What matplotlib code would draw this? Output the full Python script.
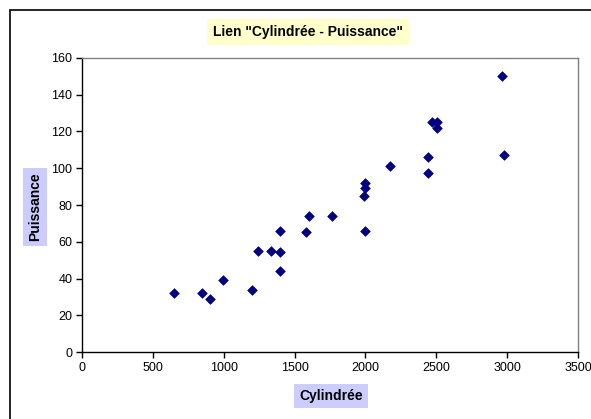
import matplotlib.pyplot as plt
from matplotlib.patches import Rectangle

# Cylindrée (cm3) et Puissance (ch)
cylindree = [650, 845, 900, 993, 1200, 1240, 1333, 1398, 1398, 1398,
             1581, 1602, 1762, 1988, 2000, 2000, 2000, 2172,
             2443, 2443, 2472, 2502, 2507, 2962, 2979]
puissance = [32, 32, 29, 39, 33.5, 55, 55, 54.5, 66, 44,
             65.4, 74, 74, 85, 89, 92, 66, 101,
             106, 97.3, 125, 125, 122, 150, 107]

x_ticks = list(range(0, 3501, 500))
y_ticks = list(range(0, 161, 20))

plt.rcParams['font.family'] = ['Liberation Sans', 'DejaVu Sans']

fig = plt.figure(figsize=(5.91, 4.19), dpi=100)
W, H = 591, 419

# cadre extérieur du graphique
fig.patches.append(Rectangle((10 / W, -0.1), 1.2, 1 - 10 / H + 0.1,
                             transform=fig.transFigure, fill=False,
                             edgecolor='black', linewidth=1.2))

ax = fig.add_axes([82 / W, 1 - 352 / H, (578 - 82) / W, (352 - 58) / H])
ax.scatter(cylindree, puissance, marker='D', s=24, color='#000080',
           edgecolors='#000080', linewidths=0.5, zorder=3)

ax.set_xlim(0, 3500)
ax.set_ylim(0, 160)
ax.set_xticks(x_ticks)
ax.set_yticks(y_ticks)
ax.tick_params(labelsize=9, length=4, width=1, direction='out', pad=3)

for side in ['top', 'right']:
    ax.spines[side].set_color('#808080')
    ax.spines[side].set_linewidth(1)
for side in ['bottom', 'left']:
    ax.spines[side].set_color('black')
    ax.spines[side].set_linewidth(1)

fig.text(308 / W, 1 - 32 / H, 'Lien "Cylindrée - Puissance"', ha='center', va='center',
         fontsize=10, fontweight='bold',
         bbox=dict(boxstyle='square,pad=0.45', facecolor='#FFFFCC', edgecolor='none'))
fig.text(331 / W, 1 - 396 / H, 'Cylindrée', ha='center', va='center',
         fontsize=10, fontweight='bold',
         bbox=dict(boxstyle='square,pad=0.35', facecolor='#CCCCFF', edgecolor='none'))
fig.text(35 / W, 1 - 207 / H, 'Puissance', ha='center', va='center', rotation=90,
         fontsize=10, fontweight='bold',
         bbox=dict(boxstyle='square,pad=0.35', facecolor='#CCCCFF', edgecolor='none'))

fig.savefig('out.png', dpi=100)
